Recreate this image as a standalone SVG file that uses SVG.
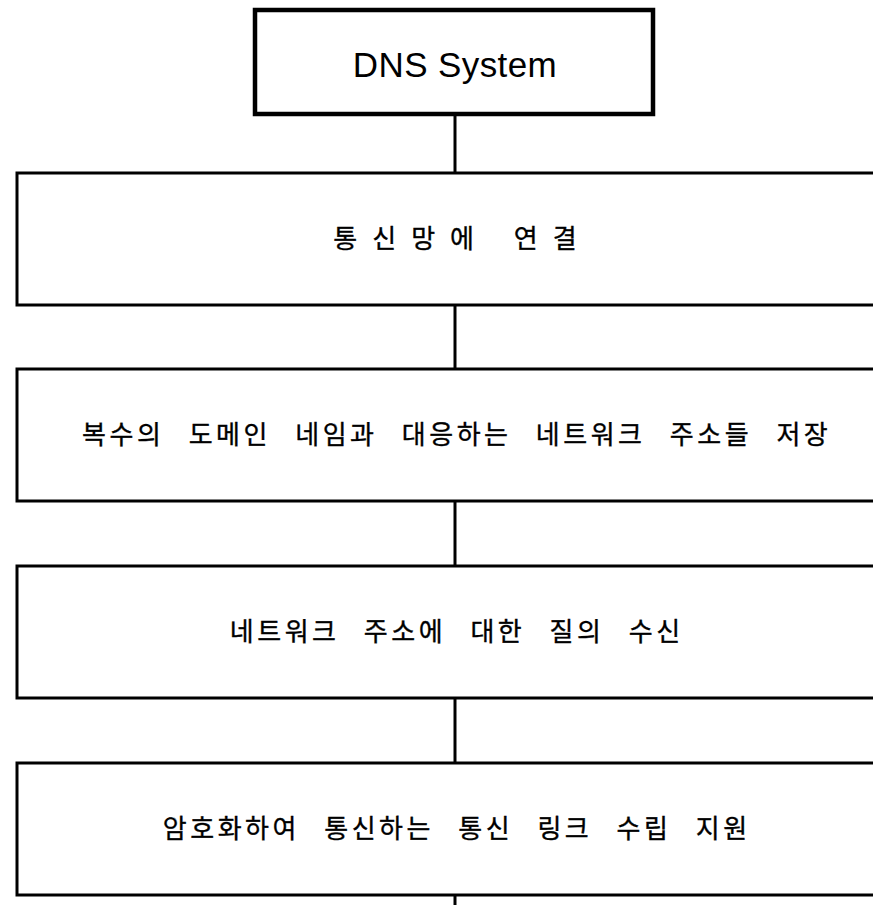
<svg xmlns="http://www.w3.org/2000/svg" width="873" height="905" viewBox="0 0 873 905">
  <style>
    .box { fill: #ffffff; stroke: #000000; stroke-width: 3; }
    .top { fill: #ffffff; stroke: #000000; stroke-width: 4.5; }
    .link { stroke: #000000; stroke-width: 3; fill: none; }
    .title { font-family: "Liberation Sans", Arial, sans-serif; font-size: 35px; letter-spacing: 0.4px; fill: #000; text-anchor: middle; }
    .label { font-family: "Noto Sans CJK KR", "Noto Sans", sans-serif; font-size: 26px; letter-spacing: 3.5px; word-spacing: 15px; fill: #000; stroke: #000; stroke-width: 0.35; text-anchor: middle; }
    .wide { letter-spacing: 15px; word-spacing: 4px; }
  </style>
  <rect width="873" height="905" fill="#ffffff"/>

  <!-- connectors between steps -->
  <g id="connectors">
    <line class="link" x1="455" y1="116" x2="455" y2="173"/>
    <line class="link" x1="455" y1="305" x2="455" y2="369"/>
    <line class="link" x1="455" y1="501" x2="455" y2="566"/>
    <line class="link" x1="455" y1="698" x2="455" y2="763"/>
    <line class="link" x1="455" y1="895" x2="455" y2="905"/>
  </g>

  <g id="dns-system">
    <rect class="top" x="255" y="10" width="398" height="104"/>
    <text class="title" x="455" y="77">DNS System</text>
  </g>

  <g id="step-connect">
    <rect class="box" x="17" y="173" width="878" height="132"/>
    <text class="label wide" x="462.5" y="248">통신망에 연결</text>
  </g>

  <g id="step-store">
    <rect class="box" x="17" y="369" width="878" height="132"/>
    <text class="label" x="456.7" y="444">복수의 도메인 네임과 대응하는 네트워크 주소들 저장</text>
  </g>

  <g id="step-query">
    <rect class="box" x="17" y="566" width="878" height="132"/>
    <text class="label" x="456.7" y="641">네트워크 주소에 대한 질의 수신</text>
  </g>

  <g id="step-link">
    <rect class="box" x="17" y="763" width="878" height="132"/>
    <text class="label" x="456.7" y="838">암호화하여 통신하는 통신 링크 수립 지원</text>
  </g>
</svg>
